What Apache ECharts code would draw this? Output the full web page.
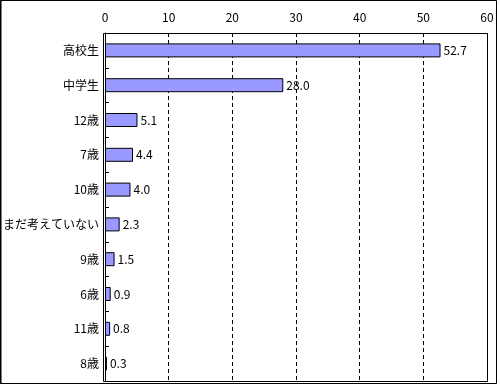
<!DOCTYPE html>
<html><head><meta charset="utf-8">
<script src="https://cdn.jsdelivr.net/npm/echarts@6/dist/echarts.min.js"></script>
<style>html,body{margin:0;padding:0;background:#fff}#c{width:500px;height:385px}</style>
</head><body><div id="c"></div>
<script>
const categories = ['高校生','中学生','12歳','7歳','10歳','まだ考えていない','9歳','6歳','11歳','8歳'];
const values = [52.7, 28.0, 5.1, 4.4, 4.0, 2.3, 1.5, 0.9, 0.8, 0.3];
const xTicks = [0, 10, 20, 30, 40, 50, 60];

const font = '"Noto Sans CJK JP", sans-serif';
const chart = echarts.init(document.getElementById('c'));
chart.setOption({
  animation: false,
  backgroundColor: '#fff',
  grid: {left: 103, right: 13, top: 33, bottom: 4, containLabel: false},
  xAxis: {
    type: 'value', position: 'top', min: xTicks[0], max: xTicks[xTicks.length-1], interval: 10,
    axisLine: {show: true, lineStyle: {color: '#000'}},
    axisTick: {show: false},
    axisLabel: {color: '#000', fontSize: 12, fontFamily: font, margin: 10},
    splitLine: {show: true, lineStyle: {color: '#000', type: [4, 3], width: 1}}
  },
  yAxis: {
    type: 'category', inverse: true, data: categories,
    axisLine: {show: true, lineStyle: {color: '#000'}},
    axisTick: {show: true, inside: true, length: 4, lineStyle: {color: '#000'}},
    axisLabel: {color: '#000', fontSize: 12, fontFamily: font, margin: 6},
    splitLine: {show: false}
  },
  series: [{
    type: 'bar', data: values, barWidth: 14,
    itemStyle: {color: '#9999FF', borderColor: '#000', borderWidth: 1},
    label: {show: true, position: 'right', distance: 3, color: '#000', fontSize: 12, fontFamily: font,
      formatter: p => p.value.toFixed(1)}
  }],
  graphic: [
    {type: 'rect', shape: {x: 0.5, y: 0.5, width: 496, height: 383}, style: {fill: 'none', stroke: '#000', lineWidth: 1}, z: 100},
    {type: 'line', shape: {x1: 1, y1: 0, x2: 1, y2: 384}, style: {stroke: '#000', lineWidth: 1}, z: 100},
    {type: 'rect', shape: {x: 103.5, y: 33.5, width: 384, height: 348}, style: {fill: 'none', stroke: '#000', lineWidth: 1}, z: 100}
  ]
});
</script></body></html>
